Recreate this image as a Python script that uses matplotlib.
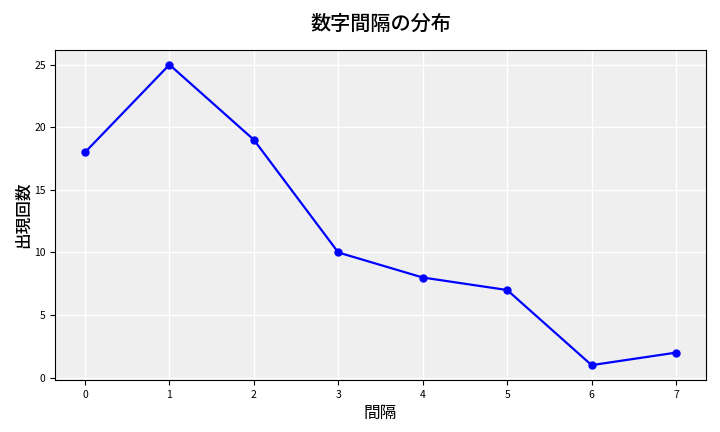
import matplotlib
matplotlib.use("Agg")
import matplotlib.pyplot as plt

plt.rcParams['font.family'] = ['Noto Sans CJK JP', 'DejaVu Sans']

intervals = [0, 1, 2, 3, 4, 5, 6, 7]
counts = [18, 25, 19, 10, 8, 7, 1, 2]

fig, ax = plt.subplots(figsize=(7.2, 4.32), dpi=100)
ax.set_facecolor('#efefef')
ax.plot(intervals, counts, color='blue', marker='o', markersize=5, linewidth=1.6)
ax.grid(True, color='white', linewidth=1)
ax.set_axisbelow(True)
ax.set_title('数字間隔の分布', fontsize=14.5, fontweight='medium', pad=14)
ax.set_xlabel('間隔', fontsize=12)
ax.set_ylabel('出現回数', fontsize=12, fontweight='medium', labelpad=2)
ax.tick_params(labelsize=7.5)
ax.set_xticks(intervals)
fig.subplots_adjust(left=0.077, right=0.98, top=0.885, bottom=0.12)
fig.savefig('out.png', dpi=100)
